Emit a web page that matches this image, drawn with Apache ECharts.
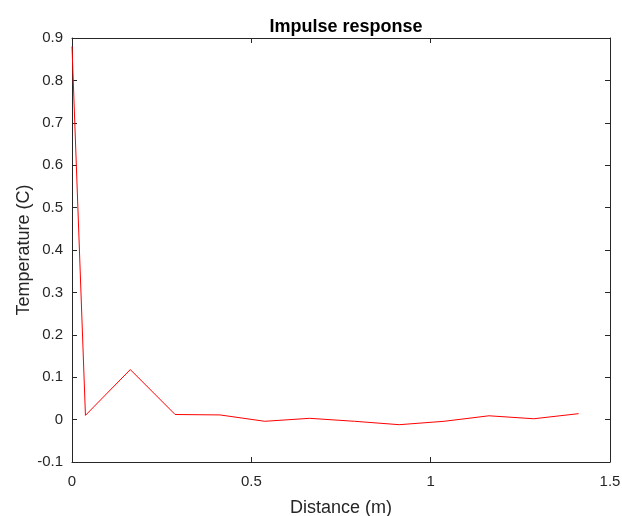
<!DOCTYPE html>
<html lang="en">
<head>
    <meta charset="UTF-8">
    <title>Impulse response</title>
    <style>
        html, body { margin: 0; padding: 0; background: #fff; }
    </style>
</head>
<body>
    <div id="chart" style="width:622px;height:516px;"></div>

    <script src="https://cdn.jsdelivr.net/npm/echarts@6/dist/echarts.min.js"></script>
    <script>
// distance (m) and temperature (C)
var distance = [0, 0.0375, 0.1625, 0.2875, 0.4125, 0.5375, 0.6625, 0.7875, 0.9125, 1.0375, 1.1625, 1.2875, 1.4125];
var temperature = [0.88, 0.01, 0.118, 0.012, 0.011, -0.004, 0.003, -0.004, -0.012, -0.004, 0.009, 0.002, 0.014];

var font = 'Liberation Sans, Arial, sans-serif';
var ink = '#262626';

var points = distance.map(function (d, i) { return [d, temperature[i]]; });

function fmt(v) { return String(+v.toFixed(2)); }

var axisCommon = {
    axisLine: { show: true, onZero: false, lineStyle: { color: ink, width: 1 } },
    axisTick: { show: true, inside: true, length: 5, lineStyle: { color: ink } },
    splitLine: { show: false }
};

var option = {
    animation: false,
    backgroundColor: '#fff',
    title: {
        text: 'Impulse response',
        left: 341,
        textAlign: 'center',
        top: 13,
        textStyle: { fontFamily: font, fontSize: 18, fontWeight: 'bold', color: '#000' }
    },
    grid: { left: 72, right: 12, top: 38, bottom: 54, containLabel: false, outerBoundsMode: 'none' },
    xAxis: [
        Object.assign({
            type: 'value', min: 0, max: 1.5, interval: 0.5, position: 'bottom',
            name: 'Distance (m)', nameLocation: 'middle', nameGap: 37, nameMoveOverlap: false,
            nameTextStyle: { fontFamily: font, fontSize: 18, color: ink },
            axisLabel: { fontFamily: font, fontSize: 15, color: ink, margin: 12, formatter: fmt }
        }, axisCommon),
        Object.assign({
            type: 'value', min: 0, max: 1.5, interval: 0.5, position: 'top',
            axisLabel: { show: false }
        }, axisCommon)
    ],
    yAxis: [
        Object.assign({
            type: 'value', min: -0.1, max: 0.9, interval: 0.1, position: 'left',
            name: 'Temperature (C)', nameLocation: 'middle', nameGap: 39, nameMoveOverlap: false,
            nameTextStyle: { fontFamily: font, fontSize: 18, color: ink },
            axisLabel: { fontFamily: font, fontSize: 15, color: ink, margin: 9, formatter: fmt }
        }, axisCommon),
        Object.assign({
            type: 'value', min: -0.1, max: 0.9, interval: 0.1, position: 'right',
            axisLabel: { show: false }
        }, axisCommon)
    ],
    series: [{
        type: 'line',
        data: points,
        showSymbol: false,
        lineStyle: { color: '#ff0000', width: 1 },
        itemStyle: { color: '#ff0000' }
    }]
};

var chart = echarts.init(document.getElementById('chart'));
chart.setOption(option);
    </script>
</body>
</html>
